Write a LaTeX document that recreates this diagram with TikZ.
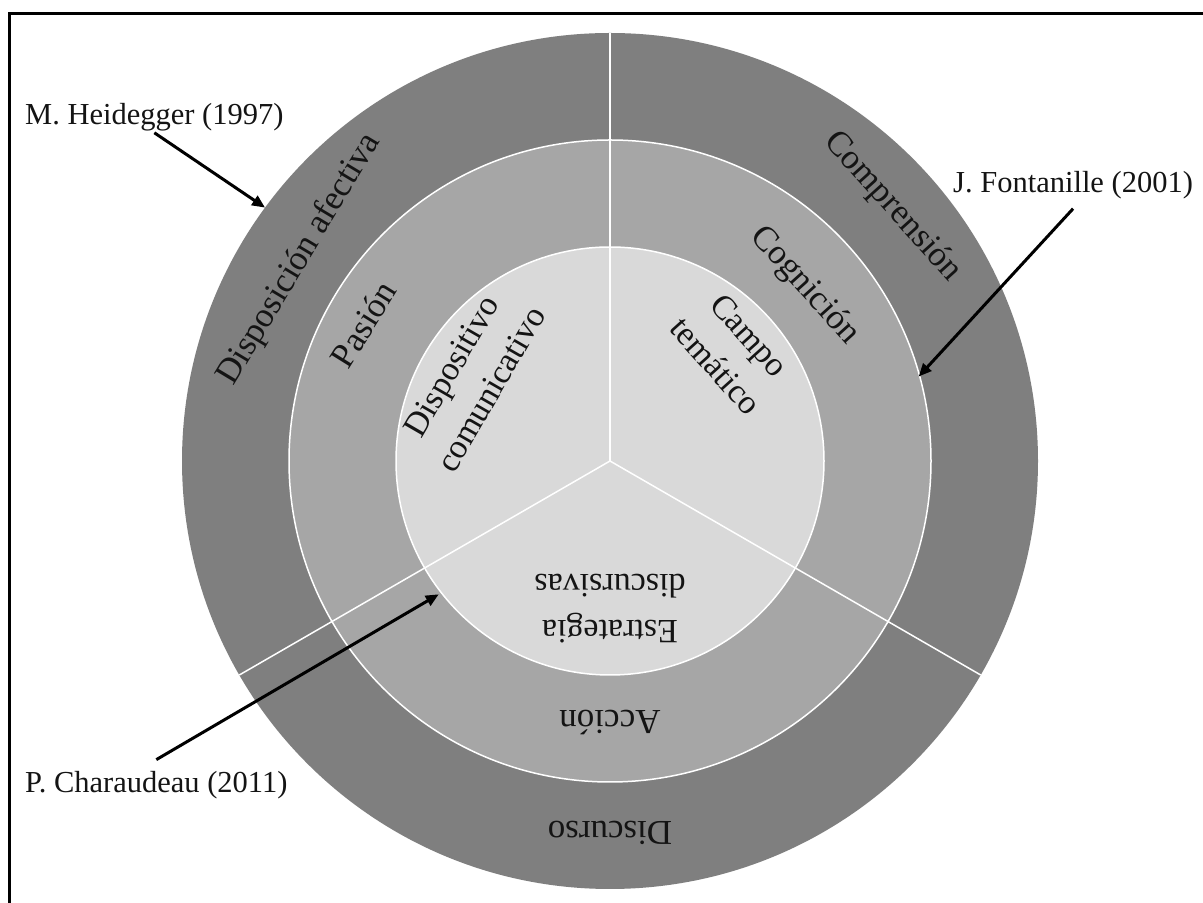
\documentclass[tikz,border=0pt]{standalone}
\usepackage{fontspec}
\setmainfont{Liberation Serif}
\usetikzlibrary{arrows.meta,calc}
\definecolor{ringA}{HTML}{7F7F7F}
\definecolor{ringB}{HTML}{A6A6A6}
\definecolor{ringC}{HTML}{D9D9D9}
\definecolor{txt}{HTML}{141414}
\begin{document}
\begin{tikzpicture}[x=1bp,y=1bp,
  lbl/.style={font=\fontsize{30.5bp}{36bp}\selectfont, text=txt, inner sep=0pt, align=center},
  ring/.style={font=\fontsize{35bp}{42bp}\selectfont, text=txt, inner sep=0pt, align=center},
  core/.style={font=\fontsize{34bp}{46bp}\selectfont, text=txt, inner sep=0pt, align=center},
  sep/.style={draw=white, line width=1.5bp},
  pointer/.style={line width=3bp, -{Triangle[length=13bp,width=11bp]}, black},
  frame/.style={line width=3bp, black}]
\useasboundingbox (0,0) rectangle (1203,903);
\fill[white] (0,0) rectangle (1203,903);
\coordinate (C) at (610,442);
\fill[ringA] (C) circle (428);
\fill[ringB] (C) circle (321);
\fill[ringC] (C) circle (214);
\draw[sep] (C) circle (321);
\draw[sep] (C) circle (214);
\foreach \a in {90,210,330} \draw[sep] (C) -- ++(\a:428);
% ring labels
\node[ring, rotate=59]  (dispaf) at ([shift={(147:370)}]C) {Disposición afectiva};
\node[ring, rotate=-48] (compr)  at ([shift={(42:380)}]C) {Comprensión};
\node[ring, rotate=180] (disc)   at ([shift={(270:372)}]C) {Discurso};
\node[ring, rotate=58]  (pasion) at ([shift={(151:282)}]C) {Pasión};
\node[ring, rotate=-48] (cogn)   at ([shift={(42:262)}]C) {Cognición};
\node[ring, rotate=180] (accion) at ([shift={(270:262)}]C) {Acción};
\node[core, rotate=60]  (dispco) at ([shift={(149:162)}]C) {Dispositivo\\comunicativo};
\node[core, rotate=-48] (campo)  at ([shift={(42:165)}]C) {Campo\\temático};
\node[core, rotate=180] (estr)   at ([shift={(270:148)}]C) {Estrategia\\discursivas};
% frame
\draw[frame] (9,0) |- (1203,889.5);
% authors
\node[lbl, anchor=base west] (heid) at (25,778) {M. Heidegger (1997)};
\node[lbl, anchor=base west] (font) at (953,710) {J. Fontanille (2001)};
\node[lbl, anchor=base west] (char) at (25,110) {P. Charaudeau (2011)};
\coordinate (hT) at ([shift={(143.7:428)}]C);
\coordinate (fT) at ([shift={(15.3:320)}]C);
\coordinate (cT) at ([shift={(217.9:217)}]C);
\draw[pointer] ([yshift=-1bp]heid.south) -- (hT);
\draw[pointer] ([yshift=-9bp]font.south) -- (fT);
\draw[pointer] ([yshift=12bp]char.north) -- (cT);
\end{tikzpicture}
\end{document}
